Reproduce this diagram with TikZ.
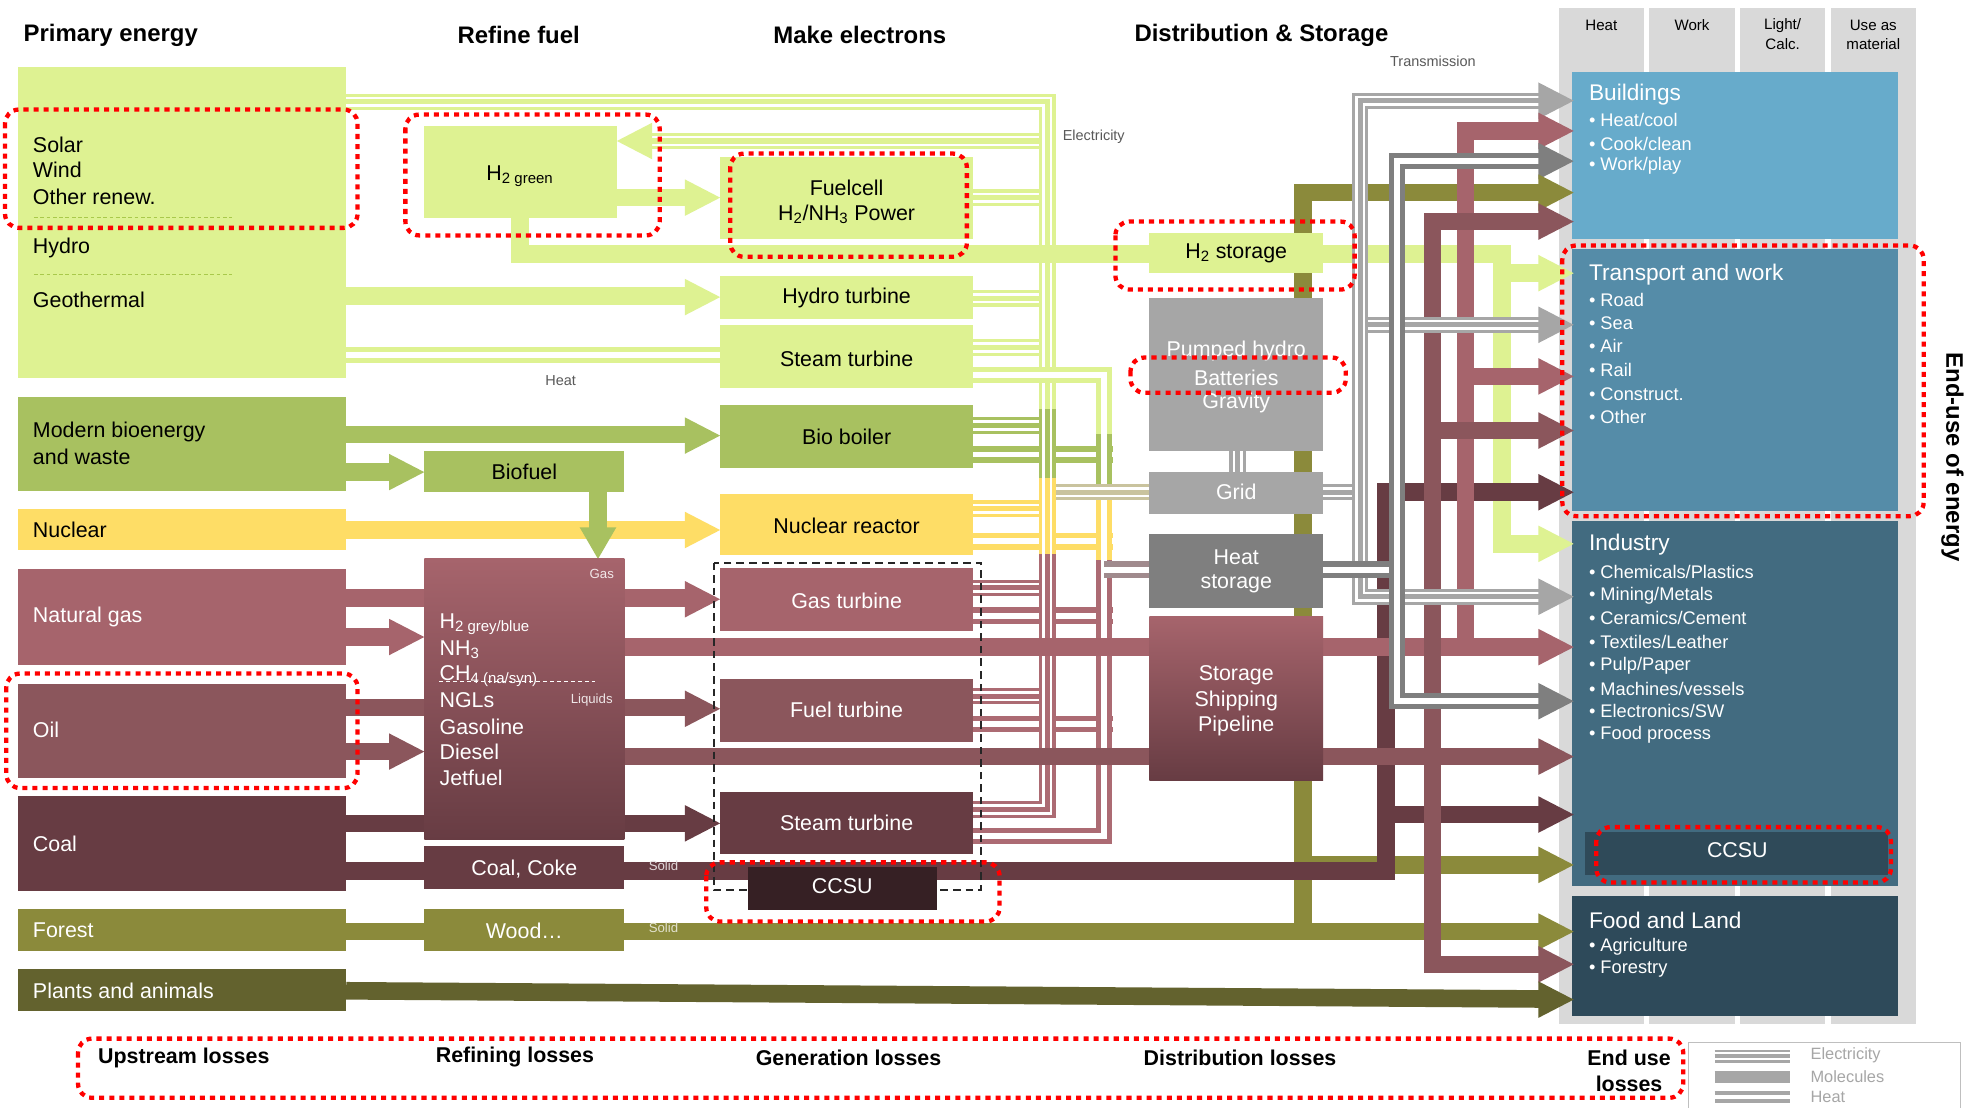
\documentclass[tikz,border=0pt]{standalone}
\usepackage{fontspec}
\setmainfont{Liberation Sans}
\definecolor{lgC}{HTML}{DEF292}
\definecolor{bioC}{HTML}{A8C160}
\definecolor{nucC}{HTML}{FEDD66}
\definecolor{gasC}{HTML}{A6646C}
\definecolor{oilC}{HTML}{8B565C}
\definecolor{coalC}{HTML}{673C43}
\definecolor{oliveC}{HTML}{8B8A3B}
\definecolor{plantC}{HTML}{63622E}
\definecolor{lgrayC}{HTML}{A6A6A6}
\definecolor{dgrayC}{HTML}{7F7F7F}
\definecolor{colC}{HTML}{D9D9D9}
\definecolor{bldC}{HTML}{67ABCB}
\definecolor{trnC}{HTML}{558CA8}
\definecolor{indC}{HTML}{426B80}
\definecolor{foodC}{HTML}{2E4A5A}
\definecolor{ccsuBC}{HTML}{2F4A59}
\definecolor{ccsuC}{HTML}{362024}
\definecolor{dashG}{HTML}{A9C94B}
\definecolor{gridmixC}{HTML}{C9C39E}
\definecolor{heatmixC}{HTML}{A08A8D}
\definecolor{genRoseC}{HTML}{AC6B73}
\definecolor{txtG}{HTML}{595959}
\newcommand\szT{\fontsize{19}{22}\selectfont\bfseries}
\newcommand\szA{\fontsize{17}{20}\selectfont}
\newcommand\szE{\fontsize{18}{21}\selectfont}
\newcommand\szB{\fontsize{14.5}{17}\selectfont}
\newcommand\szH{\fontsize{12}{14}\selectfont}
\newcommand\szS{\fontsize{11.5}{13}\selectfont}
\newcommand\szX{\fontsize{10.5}{12}\selectfont}
\newcommand\arR[3]{\fill[#1] (#2,#3) -- ++(-28,-14.5) -- ++(0,29) -- cycle;}
\newcommand\arL[3]{\fill[#1] (#2,#3) -- ++(28,-14.5) -- ++(0,29) -- cycle;}
\newcommand\arD[3]{\fill[#1] (#2,#3) -- ++(-14.5,-25) -- ++(29,0) -- cycle;}
\newcommand\mybox[6]{\node[boxs,#2,minimum width={(#5-#3)*1pt},minimum height={(#6-#4)*1pt}] (#1) at (#3,#4) {};}
\begin{document}
\begin{tikzpicture}[x=1pt,y=-1pt,
  boxs/.style={rectangle,inner sep=0pt,outer sep=0pt,anchor=north west,draw=none},
  elec/.style={draw=#1,line width=13pt,line join=miter,postaction={draw=white,line width=8pt},postaction={draw=#1,line width=4pt}},
  heat/.style={draw=#1,line width=4.2pt,double=white,double distance=4.6pt,line join=miter},
  mol/.style={draw=#1,line width=14pt,line join=miter},
  reddot/.style={draw=red,line width=3.4pt,dash pattern=on 4pt off 4pt,rounded corners=11pt},
  lbl/.style={inner sep=0pt,anchor=west},
  lblc/.style={inner sep=0pt}]
\useasboundingbox (0,0) rectangle (1568,880);
\fill[white] (0,0) rectangle (1568,880);

% ---------- titles
\node[lblc] (tPrim) at (88,28) {\szT Primary energy};
\node[lblc] (tRef) at (412,28) {\szT Refine fuel};
\node[lblc] (tMake) at (683,28) {\szT Make electrons};
\node[lblc] (tDist) at (1002,28) {\szT Distribution \& Storage};
\node[lbl,text=txtG] (tTrans) at (1104,49) {\szS Transmission};
\node[lbl,text=txtG] (tElec) at (844,109) {\szS Electricity};
\node[lbl,text=txtG] (tHeat) at (433,302) {\szS Heat};

% ---------- end-use columns
\fill[colC] (1238,6) rectangle (1306,813);
\fill[colC] (1310,6) rectangle (1378,813);
\fill[colC] (1382,6) rectangle (1450,813);
\fill[colC] (1454,6) rectangle (1522,813);
\node[lblc] (hHeat) at (1272,20) {\szH Heat};
\node[lblc] (hWork) at (1344,20) {\szH Work};
\node[lblc] (hLight) at (1416,20) {\szH Light/};
\node[lblc] (hCalc) at (1416,35) {\szH Calc.};
\node[lblc] (hUse) at (1488,20) {\szH Use as};
\node[lblc] (hMat) at (1488,35) {\szH material};

\mybox{bld}{fill=bldC}{1249}{57}{1508}{190}
\mybox{trn}{fill=trnC}{1249}{198}{1508}{406}
\mybox{ind}{fill=indC}{1249}{414}{1508}{704}
\mybox{ccsub}{fill=ccsuBC}{1259}{661}{1500}{695}
\mybox{food}{fill=foodC}{1249}{712}{1508}{807}

\begin{scope}[every node/.style={lbl,text=white}]
\node at (1262,75) {\szE Buildings};
\node at (1262,95) {\szB • Heat/cool};
\node at (1262,114) {\szB • Cook/clean};
\node at (1262,132) {\szB • Work/play};
\node at (1262,218) {\szE Transport and work};
\node at (1262,238) {\szB • Road};
\node at (1262,257) {\szB • Sea};
\node at (1262,275) {\szB • Air};
\node at (1262,294) {\szB • Rail};
\node at (1262,313) {\szB • Construct.};
\node at (1262,331) {\szB • Other};
\node at (1262,433) {\szE Industry};
\node at (1262,454) {\szB • Chemicals/Plastics};
\node at (1262,473) {\szB • Mining/Metals};
\node at (1262,491) {\szB • Ceramics/Cement};
\node at (1262,510) {\szB • Textiles/Leather};
\node at (1262,529) {\szB • Pulp/Paper};
\node at (1262,547) {\szB • Machines/vessels};
\node at (1262,565) {\szB • Electronics/SW};
\node at (1262,584) {\szB • Food process};
\node at (1262,731) {\szE Food and Land};
\node at (1262,752) {\szB • Agriculture};
\node at (1262,770) {\szB • Forestry};
\end{scope}
\node[lblc,text=white] (tCcsuB) at (1380,675) {\szA CCSU};
\node[lblc,rotate=-90] (tEnd) at (1551,363) {\fontsize{19}{22}\selectfont\bfseries End-use of energy};

% ---------- generator electricity / heat lines
\draw[elec=lgC] (773,157) -- (839,157);
\draw[elec=lgC] (773,237) -- (839,237);
\draw[elec=lgC] (773,276) -- (839,276);
\draw[elec=bioC] (773,338) -- (839,338);
\draw[heat=bioC] (773,361) -- (884,361);
\draw[elec=nucC] (773,404) -- (839,404);
\draw[heat=nucC] (773,430) -- (884,430);
\draw[elec=genRoseC] (773,467) -- (839,467);
\draw[heat=genRoseC] (773,489) -- (884,489);
\draw[elec=genRoseC] (773,553) -- (839,553);
\draw[heat=genRoseC] (773,575) -- (884,575);
% electricity bus
\draw[elec=lgC] (275,81) -- (832,81) -- (832,325);
\draw[elec=bioC] (832,325) -- (832,380);
\draw[elec=nucC] (832,380) -- (832,440);
\draw[elec=genRoseC] (773,643) -- (832,643) -- (832,440);
% heat bus
\draw[heat=lgC] (773,298) -- (877,298) -- (877,345);
\draw[heat=bioC] (877,345) -- (877,395);
\draw[heat=nucC] (877,395) -- (877,445);
\draw[heat=genRoseC] (773,664) -- (877,664) -- (877,445);
% to grid and heat storage
\draw[elec=gridmixC] (839,391) -- (913,391);
\draw[heat=heatmixC] (877,452.5) -- (913,452.5);
% electricity to H2 green
\draw[elec=lgC] (825,112) -- (517,112);
\arL{lgC}{490}{112}

% ---------- primary flows
\draw[mol=lgC] (275,235) -- (545,235); \arR{lgC}{572}{236}
\draw[heat=lgC] (275,282) -- (572,282);
\draw[mol=bioC] (275,345) -- (545,345); \arR{bioC}{572}{346}
\draw[mol=bioC] (275,375) -- (310,375); \arR{bioC}{337}{375}
\draw[mol=nucC] (275,421) -- (545,421); \arR{nucC}{572}{421}
\draw[mol=gasC] (275,475) -- (545,475); \arR{gasC}{572}{476}
\draw[mol=gasC] (275,506) -- (310,506); \arR{gasC}{337}{506}
\draw[mol=oilC] (275,562) -- (545,562); \arR{oilC}{572}{563}
\draw[mol=oilC] (275,597) -- (310,597); \arR{oilC}{337}{597}
\draw[mol=coalC] (275,654) -- (545,654); \arR{coalC}{572}{654}
\draw[mol=lgC] (490,157) -- (545,157); \arR{lgC}{572}{157}
\draw[mol=bioC] (475,390) -- (475,420); \arD{bioC}{475}{444}

% ---------- long flows to end use
\draw[mol=lgC] (413,172) -- (413,202) -- (1193,202) -- (1193,432) -- (1223,432);
\draw[mol=lgC] (1193,217) -- (1223,217);
\draw[mol=plantC] (275,787) -- (1223,793.5);
\draw[mol=oliveC] (275,740) -- (1223,740);
\draw[mol=oliveC] (1035,740) -- (1035,153) -- (1223,153);
\draw[mol=oliveC] (1035,687) -- (1223,687);
\draw[mol=coalC] (275,692) -- (1101,692) -- (1101,391) -- (1223,391);
\draw[mol=coalC] (1101,647) -- (1223,647);
\draw[mol=gasC] (490,514) -- (1223,514);
\draw[mol=gasC] (1164,514) -- (1164,104) -- (1223,104);
\draw[mol=gasC] (1164,299) -- (1223,299);
\draw[mol=oilC] (490,601) -- (1223,601);
\draw[mol=oilC] (1223,176) -- (1138,176) -- (1138,766) -- (1223,766);
\draw[mol=oilC] (1138,342) -- (1223,342);
% grey transmission
\draw[elec=lgrayC] (983,358) -- (983,375);
\draw[elec=lgrayC] (1051,391) -- (1074,391);
\draw[elec=lgrayC] (1223,80) -- (1080.5,80) -- (1080.5,474) -- (1223,474);
\draw[elec=lgrayC] (1087,258) -- (1223,258);
\draw[heat=dgrayC] (1051,452.5) -- (1103,452.5);
\draw[heat=dgrayC] (1223,128) -- (1109.5,128) -- (1109.5,557) -- (1223,557);
% heads at end use
\arR{lgrayC}{1250}{80}
\arR{gasC}{1250}{104}
\arR{dgrayC}{1250}{128}
\arR{oliveC}{1250}{153}
\arR{oilC}{1250}{176}
\arR{lgC}{1250}{217}
\arR{lgrayC}{1250}{258}
\arR{gasC}{1250}{299}
\arR{oilC}{1250}{342}
\arR{coalC}{1250}{391}
\arR{lgC}{1250}{432}
\arR{lgrayC}{1250}{474}
\arR{gasC}{1250}{514}
\arR{dgrayC}{1250}{557}
\arR{oilC}{1250}{601}
\arR{coalC}{1250}{647}
\arR{oliveC}{1250}{687}
\arR{oliveC}{1250}{740}
\arR{oilC}{1250}{766}
\arR{plantC}{1250}{794}

% ---------- boxes
\mybox{solar}{fill=lgC}{14}{53}{275}{300}
\mybox{bio}{fill=bioC}{14}{315}{275}{390}
\mybox{nuc}{fill=nucC}{14}{404}{275}{437}
\mybox{gas}{fill=gasC}{14}{452}{275}{528}
\mybox{oil}{fill=oilC}{14}{543}{275}{618}
\mybox{coal}{fill=coalC}{14}{632}{275}{708}
\mybox{forest}{fill=oliveC}{14}{722}{275}{755}
\mybox{plants}{fill=plantC}{14}{770}{275}{803}

\mybox{htwog}{fill=lgC}{337}{100}{490}{173}
\mybox{biofuel}{fill=bioC}{337}{358}{496}{391}
\mybox{refbox}{top color=gasC,bottom color=coalC}{337}{444}{496}{667}
\mybox{coke}{fill=coalC}{337}{672}{496}{706}
\mybox{wood}{fill=oliveC}{337}{722}{496}{755}

\mybox{fuelcell}{fill=lgC}{572}{125}{773}{190}
\mybox{hydro}{fill=lgC}{572}{219}{773}{253}
\mybox{steamg}{fill=lgC}{572}{258}{773}{308}
\mybox{boiler}{fill=bioC}{572}{322}{773}{372}
\mybox{reactor}{fill=nucC}{572}{392}{773}{441}
\mybox{gast}{fill=gasC}{572}{451}{773}{501}
\mybox{fuelt}{fill=oilC}{572}{539}{773}{589}
\mybox{steamc}{fill=coalC}{572}{629}{773}{678}
\draw[black!85,line width=1.5pt,dash pattern=on 6pt off 4pt] (567,447) rectangle (779,707);
\mybox{ccsua}{fill=ccsuC}{594}{689}{744}{723}

\mybox{htwos}{fill=lgC}{913}{185}{1051}{217}
\mybox{pump}{fill=lgrayC}{913}{237}{1051}{358}
\mybox{grid}{fill=lgrayC}{913}{375}{1051}{408}
\mybox{heats}{fill=dgrayC}{913}{424}{1051}{483}
\mybox{stor}{top color=gasC,bottom color=coalC}{913}{490}{1051}{620}

% ---------- box texts
\draw[dashG,line width=0.9pt,dash pattern=on 3pt off 2pt] (27,173) -- (184,173);
\draw[dashG,line width=0.9pt,dash pattern=on 3pt off 2pt] (27,218) -- (184,218);
\node[lbl] at (26,115) {\szA Solar};
\node[lbl] at (26,135) {\szA Wind};
\node[lbl] at (26,156) {\szA Other renew.};
\node[lbl] at (26,197) {\szA Hydro};
\node[lbl] at (26,238) {\szA Geothermal};
\node[lbl] at (26,343) {\szA Modern bioenergy};
\node[lbl] at (26,363) {\szA and waste};
\node[lbl] at (26,421) {\szA Nuclear};
\node[lbl,text=white] at (26,490) {\szA Natural gas};
\node[lbl,text=white] at (26,580) {\szA Oil};
\node[lbl,text=white] at (26,670) {\szA Coal};
\node[lbl,text=white] at (26,739) {\szA Forest};
\node[lbl,text=white] at (26,787) {\szA Plants and animals};

\node[lblc] at (413,140) {\szA H\textsubscript{2 green}};
\node[lblc] at (416.5,375) {\szA Biofuel};
\node[lblc,text=white!85!gasC] at (478,456) {\szX Gas};
\node[lblc,text=white!85!oilC] at (470,556) {\szX Liquids};
\begin{scope}[every node/.style={lbl,text=white}]
\node at (349,496) {\szA H\textsubscript{2 grey/blue}};
\node at (349,516) {\szA NH\textsubscript{3}};
\node at (349,537) {\szA CH\textsubscript{4 (na/syn)}};
\node at (349,556) {\szA NGLs};
\node at (349,577) {\szA Gasoline};
\node at (349,597) {\szA Diesel};
\node at (349,618) {\szA Jetfuel};
\end{scope}
\draw[white,line width=0.8pt,dash pattern=on 3pt off 2.5pt] (349,541) -- (474,541);
\node[lblc,text=white] at (416.5,690) {\szA Coal, Coke};
\node[lblc,text=white] at (416.5,739) {\szA Wood…};
\node[lblc,text=white!80!coalC] at (527,688) {\szX Solid};
\node[lblc,text=white!75!oliveC] at (527,737) {\szX Solid};

\node[lblc] at (672.5,149) {\szA Fuelcell};
\node[lblc] at (672.5,170) {\szA H\textsubscript{2}/NH\textsubscript{3} Power};
\node[lblc] at (672.5,237) {\szA Hydro turbine};
\node[lblc] at (672.5,285) {\szA Steam turbine};
\node[lblc] at (672.5,347) {\szA Bio boiler};
\node[lblc] at (672.5,418) {\szA Nuclear reactor};
\node[lblc,text=white] at (672.5,477) {\szA Gas turbine};
\node[lblc,text=white] at (672.5,564) {\szA Fuel turbine};
\node[lblc,text=white] at (672.5,654) {\szA Steam turbine};
\node[lblc,text=white] at (669,704) {\szA CCSU};

\node[lblc] at (982,201) {\szA H\textsubscript{2} storage};
\node[lblc,text=white] at (982,279) {\szA Pumped hydro};
\node[lblc,text=white] at (982,300) {\szA Batteries};
\node[lblc,text=white] at (982,320) {\szA Gravity};
\node[lblc,text=white] at (982,391) {\szA Grid};
\node[lblc,text=white] at (982,443) {\szA Heat};
\node[lblc,text=white] at (982,464) {\szA storage};
\node[lblc,text=white] at (982,536) {\szA Storage};
\node[lblc,text=white] at (982,557) {\szA Shipping};
\node[lblc,text=white] at (982,577) {\szA Pipeline};

% ---------- losses and legend
\node[lblc] at (146,840) {\fontsize{17}{20}\selectfont\bfseries Upstream losses};
\node[lblc] at (409,840) {\fontsize{17}{20}\selectfont\bfseries Refining losses};
\node[lblc] at (674,840) {\fontsize{17}{20}\selectfont\bfseries Generation losses};
\node[lblc] at (985,840) {\fontsize{17}{20}\selectfont\bfseries Distribution losses};
\node[lblc] at (1294,840) {\fontsize{17}{20}\selectfont\bfseries End use};
\node[lblc] at (1294,861) {\fontsize{17}{20}\selectfont\bfseries losses};

\draw[black!25,line width=0.8pt] (1341,880) -- (1341,828) -- (1557,828) -- (1557,880);
\draw[lgrayC,line width=10pt,postaction={draw=white,line width=6pt},postaction={draw=lgrayC,line width=3pt}] (1362,839) -- (1422,839);
\draw[lgrayC,line width=9pt] (1362,855.5) -- (1422,855.5);
\draw[lgrayC,line width=3.2pt,double=white,double distance=3pt] (1362,871.5) -- (1422,871.5);
\node[lbl,text=lgrayC] at (1438,838) {\fontsize{13}{15}\selectfont Electricity};
\node[lbl,text=lgrayC] at (1438,855) {\fontsize{13}{15}\selectfont Molecules};
\node[lbl,text=lgrayC] at (1438,871) {\fontsize{13}{15}\selectfont Heat};

% ---------- red dotted highlights
\draw[reddot] (4,87) rectangle (284,181);
\draw[reddot] (322,91) rectangle (524,187);
\draw[reddot] (580,122) rectangle (768,204);
\draw[reddot] (886,176) rectangle (1076,230);
\draw[reddot] (898,284) rectangle (1069,312);
\draw[reddot] (1241,195) rectangle (1528,410);
\draw[reddot] (1268,657) rectangle (1502,701);
\draw[reddot] (561,685) rectangle (794,732);
\draw[reddot] (5,535) rectangle (284,626);
\draw[reddot] (62,825) rectangle (1337,872);
\end{tikzpicture}
\end{document}
